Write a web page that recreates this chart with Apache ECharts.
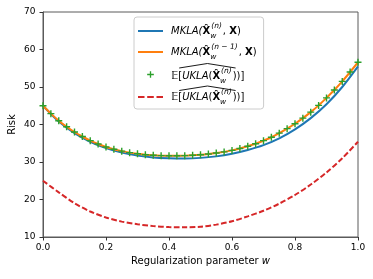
<!DOCTYPE html>
<html><head><meta charset="utf-8">
<script src="https://cdn.jsdelivr.net/npm/echarts@6/dist/echarts.min.js"></script>
<style>html,body{margin:0;padding:0;background:#fff}#c{width:373px;height:279px}</style>
</head><body><div id="c"></div>
<script>
// Regularization parameter w (blue / red curves, step 0.05)
const wCoarse = [0,0.05,0.1,0.15,0.2,0.25,0.3,0.35,0.4,0.45,0.5,0.55,0.6,0.65,0.7,0.75,0.8,0.85,0.9,0.95,1.0];
const mklaN = [45.0,40.8,37.7,35.4,33.7,32.5,31.7,31.2,31.0,30.95,31.1,31.5,32.2,33.2,34.5,36.3,38.7,41.7,45.4,50.0,55.5];
const ukla2 = [25.0,21.9,19.0,16.8,15.2,14.1,13.4,12.9,12.65,12.6,12.75,13.3,14.2,15.5,17.0,18.9,21.2,24.0,27.2,31.0,35.4];
// w grid for orange curve and green markers (step 0.025)
const wFine = [0,0.025,0.05,0.075,0.1,0.125,0.15,0.175,0.2,0.225,0.25,0.275,0.3,0.325,0.35,0.375,0.4,0.425,0.45,0.475,0.5,0.525,0.55,0.575,0.6,0.625,0.65,0.675,0.7,0.725,0.75,0.775,0.8,0.825,0.85,0.875,0.9,0.925,0.95,0.975,1.0];
const mklaN1 = [45.0,42.9,41.0,39.4,38.0,36.8,35.7,34.8,34.0,33.4,32.9,32.5,32.2,31.95,31.8,31.7,31.65,31.65,31.7,31.8,31.95,32.15,32.4,32.7,33.1,33.6,34.2,34.85,35.7,36.6,37.7,38.9,40.2,41.7,43.3,45.1,47.1,49.2,51.5,54.0,56.6];
const uklaExp = [45.0,42.9,41.0,39.4,38.0,36.8,35.7,34.8,34.0,33.4,32.9,32.5,32.2,31.95,31.8,31.7,31.65,31.65,31.7,31.8,31.95,32.15,32.4,32.7,33.1,33.6,34.2,34.85,35.7,36.6,37.7,38.9,40.2,41.7,43.3,45.1,47.1,49.2,51.5,54.0,56.6];
const xTicks = [0,0.2,0.4,0.6,0.8,1.0];
const yTicks = [10,20,30,40,50,60,70];

const pair = (xs, ys) => xs.map((x, i) => [x, ys[i]]);
const F = 'DejaVu Sans';
const labels = {
  s1: '{i|MKLA(}{b|X\u0302}{sub|w}{sup|(n)}{t|, }{b|X}{t|)}',
  s2: '{i|MKLA(}{b|X\u0302}{sub|w}{sup|(n \u2212 1)}{t|, }{b|X}{t|)}',
  s3: '{t|\uD835\uDD3C[}{i|UKLA}{t|(}{b|X\u0302}{sub|w}{sup|(n)}{t|))]}',
  s4: '{t|\uD835\uDD3C[}{i|UKLA}{t|(}{b|X\u0302}{sub|w}{sup|(n)}{t|))]}'
};
const plusPath = 'path://M-1,-5 L1,-5 L1,-1 L5,-1 L5,1 L1,1 L1,5 L-1,5 L-1,1 L-5,1 L-5,-1 L-1,-1 Z';
const plusIcon = 'path://M-6,-6 L-5.99,-6 L-6,-5.99 Z M-1,-5 L1,-5 L1,-1 L5,-1 L5,1 L1,1 L1,5 L-1,5 L-1,1 L-5,1 L-5,-1 L-1,-1 Z M6,6 L5.99,6 L6,5.99 Z';
const lineIcon = 'path://M0,0 L0.01,0 L0,0.01 Z M0,3.1 L25,3.1 L25,4.9 L0,4.9 Z M25,8 L24.99,8 L25,7.99 Z';
const dashIcon = 'path://M0,0 L0.01,0 L0,0.01 Z M0,3.1 L6.5,3.1 L6.5,4.9 L0,4.9 Z M9.2,3.1 L15.8,3.1 L15.8,4.9 L9.2,4.9 Z M18.5,3.1 L25,3.1 L25,4.9 L18.5,4.9 Z M25,8 L24.99,8 L25,7.99 Z';
const axisColor = '#5a5a5a';
const small = {fontFamily: F, fontSize: 7.5, fontStyle: 'italic', lineHeight: 11};

// text measurement used only to place the wide hats over the legend labels
const ctx = document.createElement('canvas').getContext('2d');
const mw = (s, style) => { ctx.font = style; return ctx.measureText(s).width; };
const legendLeft = 134, legendTop = 17, padL = 4, padT = 5, iconW = 25, textPad = 3;
const textX = legendLeft + padL + iconW + 5 + textPad;
const hatX0 = textX + mw('\uD835\uDD3C[', '10px "' + F + '"') - 3;
const hatX1 = textX + mw('\uD835\uDD3C[', '10px "' + F + '"') + mw('UKLA', 'italic 10px "' + F + '"') + mw('(', '10px "' + F + '"')
            + mw('X\u0302', 'bold 10px "' + F + '"') + mw('(n)', 'italic 7.5px "' + F + '"') + 1 + mw(')', '10px "' + F + '"');
const hatXm = (hatX0 + hatX1) / 2;
const row3C = legendTop + padT + 18 + 3 + 18 + 3 + 1.5 + 9;
const row4C = row3C + 9 + 1.5 + 3 + 9;
const hat = (c) => ({type: 'polyline', z: 100, silent: true,
  shape: {points: [[hatX0, c - 6.5], [hatXm, c - 11], [hatX1, c - 6.5]]},
  style: {stroke: '#000', lineWidth: 0.9, fill: null}});

const chart = echarts.init(document.getElementById('c'), null, {renderer: 'canvas'});
chart.setOption({
  animation: false,
  grid: {left: 43, right: 15, top: 12, bottom: 42, show: true, borderColor: axisColor, borderWidth: 1, outerBoundsMode: 'none', containLabel: false},
  xAxis: {
    type: 'value', min: 0, max: 1, interval: 0.2,
    name: '{n|Regularization parameter }{i|w}', nameLocation: 'middle', nameGap: 19,
    nameTextStyle: {fontFamily: F, fontSize: 10, color: '#000',
      rich: {n: {fontFamily: F, fontSize: 10}, i: {fontFamily: F, fontSize: 10, fontStyle: 'italic'}}},
    axisLine: {show: true, lineStyle: {color: axisColor, width: 1}},
    axisTick: {show: true, length: 3.5, lineStyle: {color: '#333'}},
    axisLabel: {fontFamily: F, fontSize: 9, color: '#000', margin: 6,
      formatter: v => xTicks.includes(+v.toFixed(1)) ? v.toFixed(1) : ''},
    splitLine: {show: false}
  },
  yAxis: {
    type: 'value', min: 10, max: 70, interval: 10,
    name: 'Risk', nameLocation: 'middle', nameGap: 26, nameRotate: 90, nameMoveOverlap: false,
    nameTextStyle: {fontFamily: F, fontSize: 10, color: '#000'},
    axisLine: {show: true, lineStyle: {color: axisColor, width: 1}},
    axisTick: {show: true, length: 3.5, lineStyle: {color: '#333'}},
    axisLabel: {fontFamily: F, fontSize: 9, color: '#000', margin: 7.5,
      formatter: v => yTicks.includes(v) ? String(v) : ''},
    splitLine: {show: false}
  },
  legend: {
    orient: 'vertical', left: legendLeft, top: legendTop,
    padding: [padT, 7, 3, padL], itemGap: 3, itemWidth: iconW, itemHeight: 8, symbolKeepAspect: true,
    backgroundColor: 'rgba(255,255,255,0.85)', borderColor: '#cccccc', borderWidth: 1, borderRadius: 3,
    itemStyle: {borderWidth: 0},
    lineStyle: {width: 0},
    data: [
      {name: 's1', icon: lineIcon},
      {name: 's2', icon: lineIcon},
      {name: 's3', icon: plusIcon, textStyle: {padding: [3, 0, 0, textPad]}},
      {name: 's4', icon: dashIcon}
    ],
    formatter: n => labels[n],
    textStyle: {
      fontFamily: F, fontSize: 10, color: '#000', lineHeight: 18, padding: [0, 0, 0, textPad],
      rich: {
        i: {fontFamily: F, fontSize: 10, fontStyle: 'italic', lineHeight: 18},
        t: {fontFamily: F, fontSize: 10, lineHeight: 18},
        b: {fontFamily: F, fontSize: 10, fontWeight: 'bold', lineHeight: 18},
        sub: Object.assign({}, small, {verticalAlign: 'bottom', width: 1, align: 'left'}),
        sup: Object.assign({}, small, {verticalAlign: 'top', padding: [0, 1, 0, 0]})
      }
    }
  },
  series: [
    {name: 's1', type: 'line', data: pair(wCoarse, mklaN), smooth: 0.3, showSymbol: false, symbol: 'none',
     lineStyle: {color: '#1f77b4', width: 2}, itemStyle: {color: '#1f77b4'}, z: 2},
    {name: 's2', type: 'line', data: pair(wFine, mklaN1), smooth: 0.3, showSymbol: false, symbol: 'none',
     lineStyle: {color: '#ff7f0e', width: 2}, itemStyle: {color: '#ff7f0e'}, z: 3},
    {name: 's3', type: 'scatter', data: pair(wFine, uklaExp), symbol: plusPath, symbolSize: 7,
     itemStyle: {color: '#2ca02c', opacity: 1}, z: 4},
    {name: 's4', type: 'line', data: pair(wCoarse, ukla2), smooth: 0.3, showSymbol: false, symbol: 'none',
     lineStyle: {color: '#d62728', width: 2, type: [5.5, 2.4]}, itemStyle: {color: '#d62728'}, z: 2}
  ],
  graphic: [hat(row3C), hat(row4C)]
});
</script></body></html>
